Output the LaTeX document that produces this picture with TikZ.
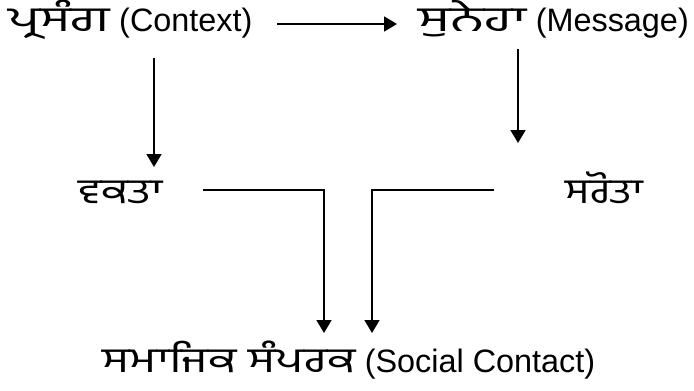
\documentclass[tikz,border=0pt]{standalone}
\usepackage{fontspec}
\usepackage{graphicx}
\setmainfont{Liberation Sans}
\newfontfamily\gur[Script=Gurmukhi,Scale=1.08,FakeStretch=1.32]{Hind Jalandhar}
\newcommand\gurw[2]{\scalebox{#1}[1]{\gur #2}}
\usetikzlibrary{arrows.meta,calc}
\tikzset{
  lbl/.style={inner sep=0pt, anchor=base west, font=\fontsize{16.2pt}{18pt}\selectfont, text height=10pt, text depth=2pt},
  arr/.style={draw, line width=0.85pt, -{Triangle[length=6.5pt,width=7.5pt]}},
}
\begin{document}
\begin{tikzpicture}[x=0.5pt,y=-0.5pt]
\useasboundingbox (0,0) rectangle (694,390);
\node[lbl] (ctx) at (8,32) {\gurw{1.15}{ਪ੍ਰਸੰਗ} (Context)};
\node[lbl] (msg) at (418,32) {\gurw{1.22}{ਸੁਨੇਹਾ} (Message)};
\node[lbl] (spk) at (78,203) {\gurw{0.98}{ਵਕਤਾ}};
\node[lbl] (lst) at (565,203) {\gurw{0.93}{ਸਰੋਤਾ}};
\node[lbl] (soc) at (102,372) {\gurw{1.03}{ਸਮਾਜਿਕ ਸੰਪਰਕ} (Social Contact)};
\draw[arr] ($(ctx.base west)+(269,-8)$) -- ($(msg.base west)+(-21,-8)$);
\draw[arr] ($(ctx.base west)+(146,26)$) -- ($(spk.base west)+(76,-36)$);
\draw[arr] ($(msg.base west)+(100,17)$) -- ($(lst.base west)+(-47,-60)$);
\draw[arr] ($(spk.base west)+(125,-13)$) -| ($(soc.base west)+(222,-39)$);
\draw[arr] ($(lst.base west)+(-71,-13)$) -| ($(soc.base west)+(270,-39)$);
\end{tikzpicture}
\end{document}
